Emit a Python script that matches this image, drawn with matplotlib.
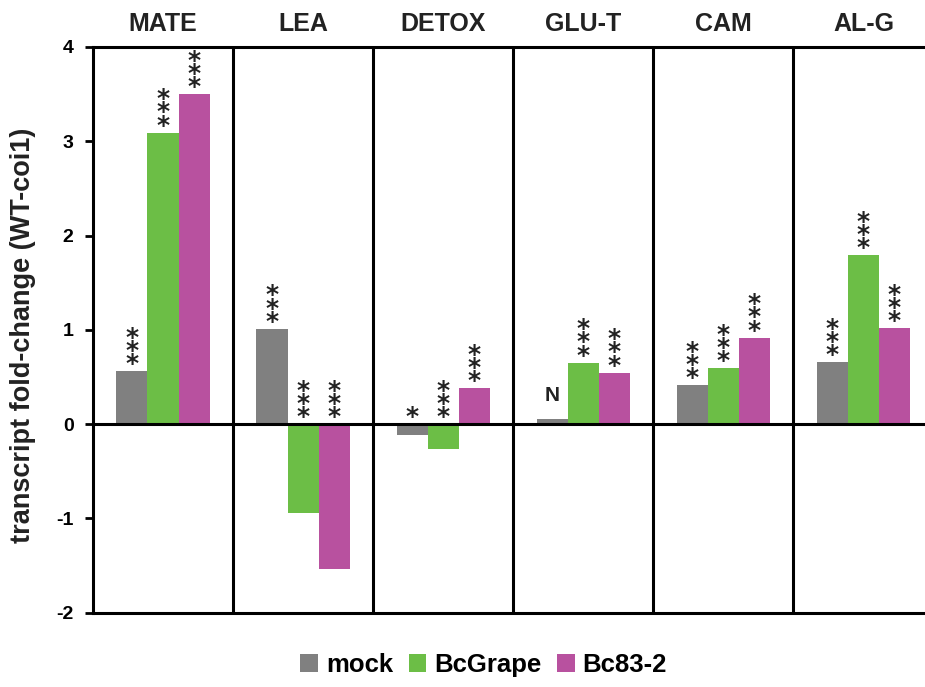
import matplotlib
matplotlib.use("Agg")
import matplotlib.pyplot as plt
from matplotlib.patches import Patch
import numpy as np

plt.rcParams['font.family'] = ['Liberation Sans', 'DejaVu Sans']

genes = ["MATE", "LEA", "DETOX", "GLU-T", "CAM", "AL-G"]
series = ["mock", "BcGrape", "Bc83-2"]
mock = [0.56, 1.01, -0.12, 0.05, 0.41, 0.655]
bcgrape = [3.09, -0.94, -0.26, 0.65, 0.59, 1.79]
bc832 = [3.50, -1.54, 0.38, 0.545, 0.915, 1.015]
sig_mock = ["***", "***", "*", "N", "***", "***"]
sig_bcgrape = ["***", "***", "***", "***", "***", "***"]
sig_bc832 = ["***", "***", "***", "***", "***", "***"]
yticks = [-2, -1, 0, 1, 2, 3, 4]

colors = ["#808080", "#6cbe46", "#b8519f"]
values = [mock, bcgrape, bc832]
sigs = [sig_mock, sig_bcgrape, sig_bc832]

fig = plt.figure(figsize=(9.25, 6.87), dpi=100)
ax = fig.add_axes([0.1005, 0.1084, 0.9086, 0.8232])

x = np.arange(len(genes)) + 0.5
width = 0.222
offsets = [-0.222, 0.0, 0.222]

star_kw = dict(textcoords="offset points", ha="center", va="bottom",
               fontsize=18, fontweight="bold", color="#222222", family="DejaVu Sans")

for vals, col, off, sg in zip(values, colors, offsets, sigs):
    ax.bar(x + off, vals, width=width, color=col, zorder=2)
    for xi, v, s in zip(x + off, vals, sg):
        base = max(v, 0)
        if s == "***":
            ax.annotate("*\n*\n*", xy=(xi, base), xytext=(0, -3.5),
                        linespacing=0.43, **star_kw)
        elif s == "*":
            ax.annotate("*", xy=(xi, base), xytext=(0, -3.5), **star_kw)
        else:
            ax.annotate(s, xy=(xi, base), xytext=(0, 10),
                        textcoords="offset points", ha="center", va="bottom",
                        fontsize=15, fontweight="bold", color="#222222")

ax.set_xlim(0, len(genes))
ax.set_ylim(-2, 4)
ax.set_yticks(yticks)
ax.set_yticklabels([str(t) for t in yticks], fontsize=14, fontweight="bold")
ax.set_xticks([])
ax.tick_params(axis="y", direction="out", length=6, width=2, pad=8, colors="black")

for sp in ax.spines.values():
    sp.set_linewidth(2.2)
ax.axhline(0, color="black", lw=2.2, zorder=3)
for i in range(1, len(genes)):
    ax.axvline(i, color="black", lw=2.2, zorder=3)

trans = matplotlib.transforms.blended_transform_factory(ax.transData, ax.transAxes)
for xi, g in zip(x, genes):
    ax.text(xi, 1.04, g, transform=trans, ha="center", va="center",
            fontsize=18, fontweight="bold", color="#222222")

ax.set_ylabel("transcript fold-change (WT-coi1)", fontsize=19.5, fontweight="bold",
              color="#222222")
ax.yaxis.set_label_coords(-0.068, 0.49)

handles = [Patch(facecolor=c, edgecolor="none", label=s) for c, s in zip(colors, series)]
fig.legend(handles=handles, loc="center", bbox_to_anchor=(0.523, 0.032), ncol=3,
           frameon=False, prop={"size": 18.5, "weight": "bold"},
           handlelength=0.68, handleheight=0.68, handletextpad=0.32, columnspacing=0.6)

fig.savefig("out.png", dpi=100)
